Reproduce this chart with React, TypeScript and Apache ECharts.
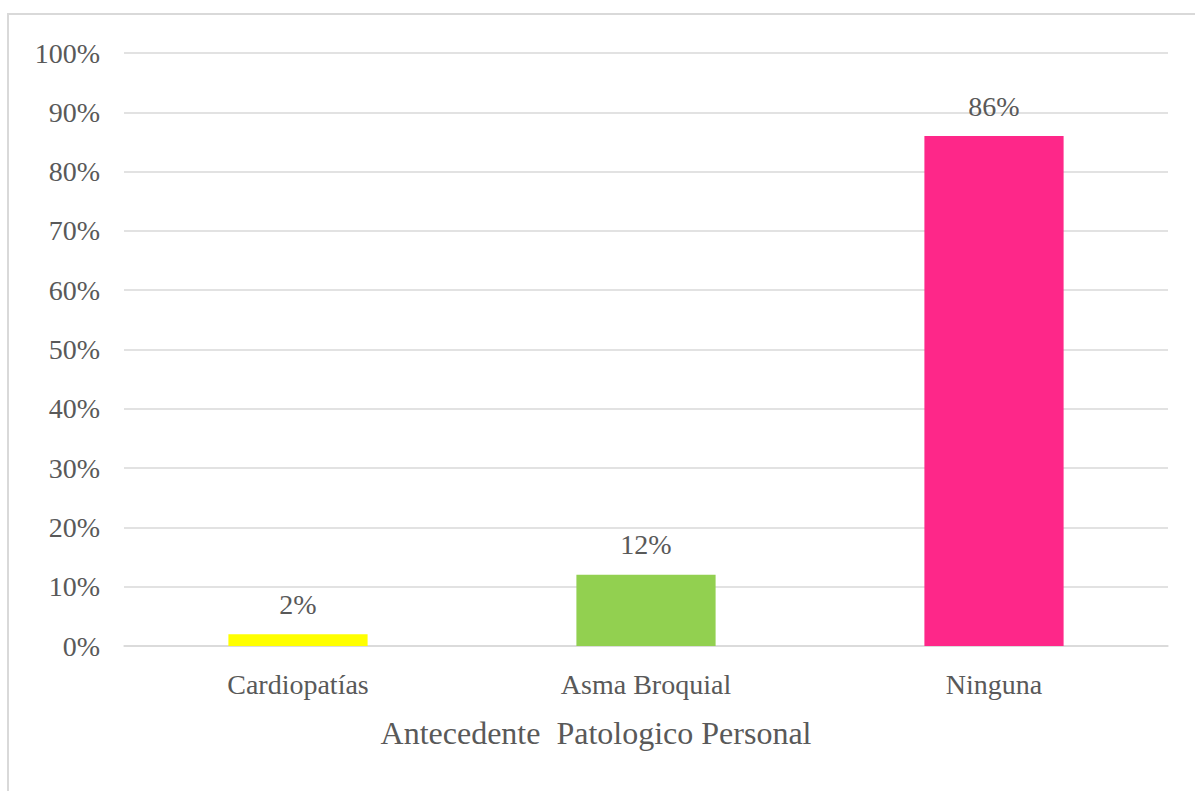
import React, { useEffect, useRef } from "react";
import * as echarts from "echarts";

const categories = ["Cardiopatías", "Asma Broquial", "Ninguna"];
const values = [2, 12, 86];
const barColors = ["#ffff00", "#92d050", "#fe2789"];
const yTicks = [0, 10, 20, 30, 40, 50, 60, 70, 80, 90, 100];
const axisTitle = "Antecedente  Patologico Personal";

const FONT = "'Liberation Serif', 'Times New Roman', serif";
const TEXT = "#595959";

export default function App() {
  const ref = useRef<HTMLDivElement>(null);
  useEffect(() => {
    if (!ref.current) return;
    const chart = echarts.init(ref.current, null, { renderer: "svg" });
    chart.setOption({
      animation: false,
      backgroundColor: "#ffffff",
      grid: { left: 124, right: 27, top: 53, bottom: 145, containLabel: false },
      xAxis: {
        type: "category",
        data: categories,
        axisLine: { show: true, lineStyle: { color: "#d9d9d9", width: 1.5 } },
        axisTick: { show: false },
        axisLabel: { color: TEXT, fontFamily: FONT, fontSize: 28, margin: 24 },
      },
      yAxis: {
        type: "value",
        min: yTicks[0],
        max: yTicks[yTicks.length - 1],
        interval: 10,
        axisLine: { show: false },
        axisTick: { show: false },
        splitLine: { lineStyle: { color: "#d9d9d9", width: 1.5 } },
        axisLabel: {
          color: TEXT,
          fontFamily: FONT,
          fontSize: 28,
          margin: 24,
          formatter: (v: number) => `${v}%`,
        },
      },
      series: [
        {
          type: "bar",
          data: values.map((v, i) => ({ value: v, itemStyle: { color: barColors[i] } })),
          barWidth: "40%",
          label: {
            show: true,
            position: "top",
            distance: 16,
            color: TEXT,
            fontFamily: FONT,
            fontSize: 28,
            formatter: (p: any) => `${p.value}%`,
          },
        },
      ],
      graphic: [
        {
          type: "rect",
          shape: { x: 8, y: 14, width: 1250, height: 850 },
          style: { fill: "none", stroke: "#d9d9d9", lineWidth: 2 },
          silent: true,
        },
        {
          type: "text",
          x: 596,
          y: 733,
          style: {
            text: axisTitle,
            fill: TEXT,
            font: `32px ${FONT}`,
            textAlign: "center",
            textVerticalAlign: "middle",
          },
        },
      ],
    });
    return () => chart.dispose();
  }, []);
  return (
    <div
      ref={ref}
      style={{ position: "fixed", left: 0, top: 0, width: 1195, height: 791 }}
    />
  );
}
